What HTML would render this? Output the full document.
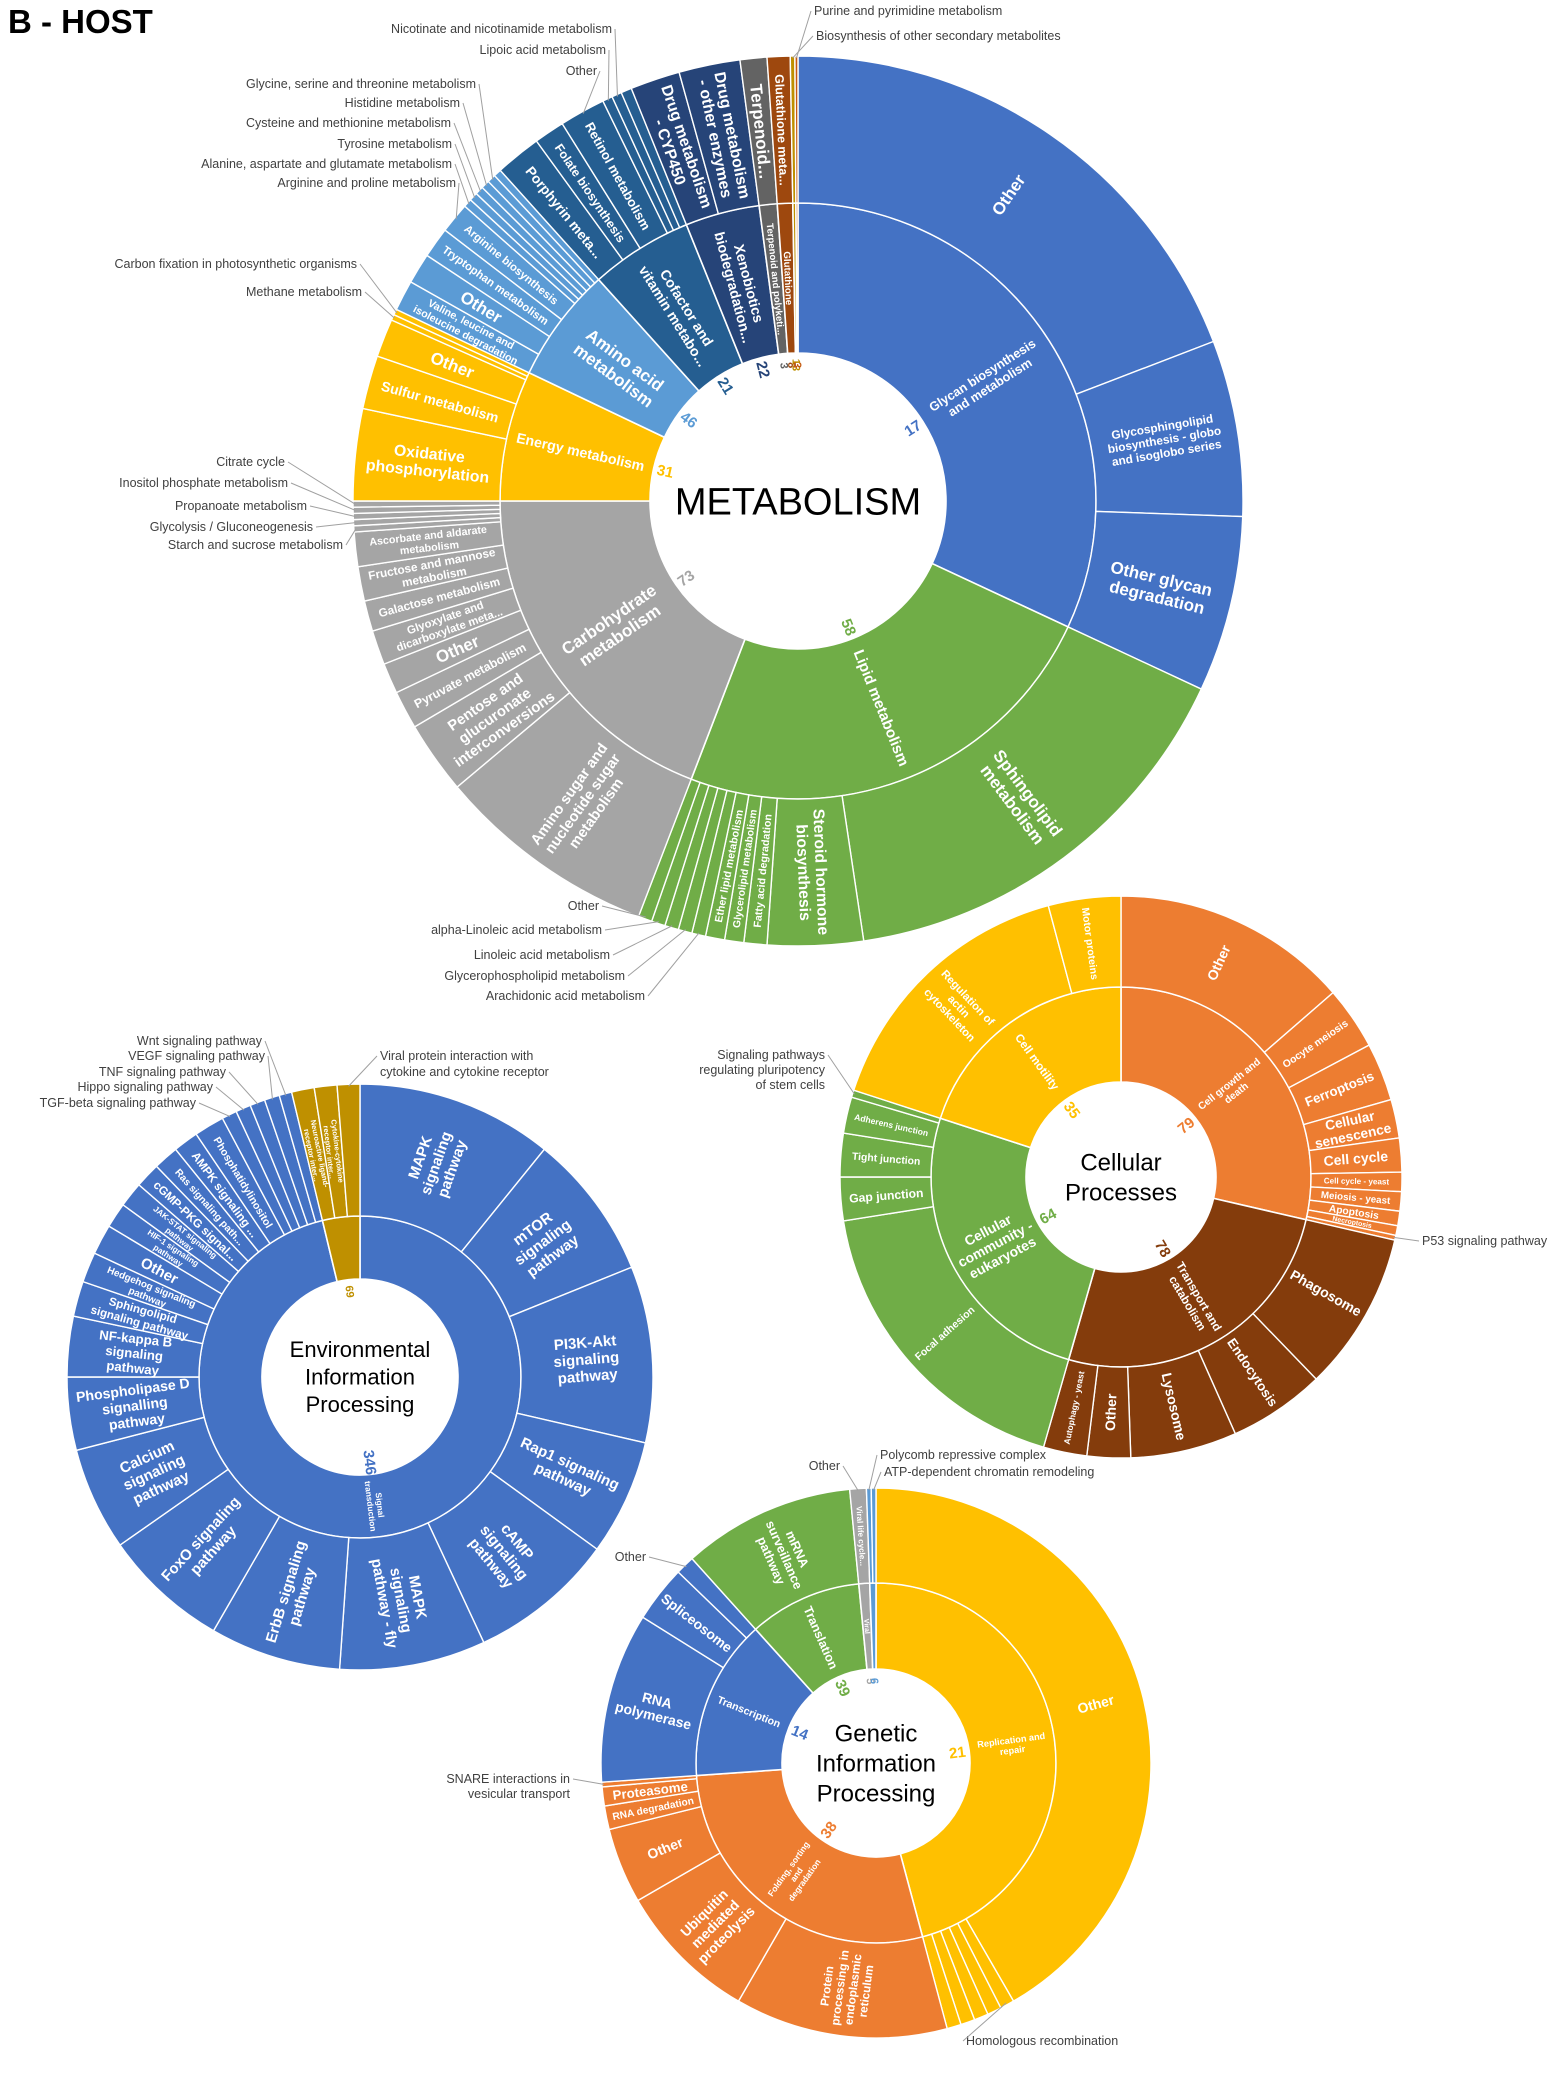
<!DOCTYPE html>
<html><head><meta charset="utf-8">
<style>
html,body{margin:0;padding:0;background:#fff;}
svg{display:block;font-family:"Liberation Sans",sans-serif;}
</style></head>
<body>
<svg id="chart" width="1557" height="2074" viewBox="0 0 1557 2074" xmlns="http://www.w3.org/2000/svg">
<rect width="1557" height="2074" fill="#fff"/>
<text x="8" y="33" font-size="33" font-weight="bold" fill="#000">B - HOST</text>
</svg>
<script>
// ===== METABOLISM =====
const metInnerNames=["Glycan biosynthesis|and metabolism","Lipid metabolism","Carbohydrate|metabolism","Energy metabolism","Amino acid|metabolism","Cofactor and|vitamin metabo...","Xenobiotics|biodegradation...","Terpenoid and polyketi...","Glutathione","Biosynthesis","Purine"];
const metInnerVals=[115,86,69,25.5,22.5,20,14.5,3.5,3,0.6,0.4];
const metInnerCounts=["17","58","73","31","46","21","22","3","8","13","3"];
const metOuterNames=["Other","Glycosphingolipid|biosynthesis - globo|and isoglobo series","Other glycan|degradation",
"Sphingolipid|metabolism","Steroid hormone|biosynthesis","Fatty acid degradation","Glycerolipid metabolism","Ether lipid metabolism","","","","","",
"Amino sugar and|nucleotide sugar|metabolism","Pentose and|glucuronate|interconversions","Pyruvate metabolism","Other","Glyoxylate and|dicarboxylate meta...","Galactose metabolism","Fructose and mannose|metabolism","Ascorbate and aldarate|metabolism","","","","","",
"Oxidative|phosphorylation","Sulfur metabolism","Other","","",
"Valine, leucine and|isoleucine degradation","Other","Tryptophan metabolism","Arginine biosynthesis","","","","","","",
"Porphyrin meta...","Folate biosynthesis","Retinol metabolism","","","",
"Drug metabolism|- CYP450","Drug metabolism|- other enzymes","Terpenoid...","Glutathione meta...","",""];
const metOuterVals=[69,23,23, 56.5,12.5,3,2.5,2.5,1.8,1.8,1.8,1.8,1.8, 29,9.5,5,4,4.5,4,4.5,4.5,0.8,0.8,0.8,0.8,0.8, 12,7,5,0.75,0.75, 4,4,4,4,1.1,1.1,1.1,1.1,1.1,1, 6,4,6,1.3,1.3,1.4, 6.5,8, 3.5,3,0.6,0.4];
const metOuterParent=[0,0,0, 1,1,1,1,1,1,1,1,1,1, 2,2,2,2,2,2,2,2,2,2,2,2,2, 3,3,3,3,3, 4,4,4,4,4,4,4,4,4,4, 5,5,5,5,5,5, 6,6, 7,8,9,10];
const metColors=["#4472C4","#70AD47","#A5A5A5","#FFC000","#5B9BD5","#255E91","#264478","#636363","#9E480E","#BF9000","#C55A11"];
const metLeaders=[
 ["Nicotinate and nicotinamide metabolism",45,612,33,"end"],["Lipoic acid metabolism",44,606,54,"end"],["Other",43,597,75,"end"],
 ["Glycine, serine and threonine metabolism",39,476,88,"end"],["Histidine metabolism",38,460,107,"end"],["Cysteine and methionine metabolism",37,451,127,"end"],
 ["Tyrosine metabolism",36,452,148,"end"],["Alanine, aspartate and glutamate metabolism",35,452,168,"end"],["Arginine and proline metabolism",34,456,187,"end"],
 ["Carbon fixation in photosynthetic organisms",30,357,268,"end"],["Methane metabolism",29,362,296,"end"],
 ["Citrate cycle",25,285,466,"end"],["Inositol phosphate metabolism",24,288,487,"end"],["Propanoate metabolism",23,307,510,"end"],
 ["Glycolysis / Gluconeogenesis",22,313,531,"end"],["Starch and sucrose metabolism",21,343,549,"end"],
 ["Other",12,599,910,"end"],["alpha-Linoleic acid metabolism",11,602,934,"end"],["Linoleic acid metabolism",10,610,959,"end"],
 ["Glycerophospholipid metabolism",9,625,980,"end"],["Arachidonic acid metabolism",8,645,1000,"end"],
 ["Purine and pyrimidine metabolism",52,814,15,"start"],["Biosynthesis of other secondary metabolites",51,816,40,"start"]];

// ===== ENVIRONMENTAL =====
const envInnerNames=["Signal|transduction","Signaling molecules|and interactions"];
const envInnerVals=[346.5,13.5];
const envInnerCounts=["346","69"];
const envOuterNames=["MAPK|signaling|pathway","mTOR|signaling|pathway","PI3K-Akt|signaling|pathway","Rap1 signaling|pathway","cAMP|signaling|pathway","MAPK|signaling|pathway - fly","ErbB signaling|pathway","FoxO signaling|pathway","Calcium|signaling|pathway","Phospholipase D|signalling|pathway","NF-kappa B|signaling|pathway","Sphingolipid|signaling pathway","Hedgehog signaling|pathway","Other","HIF-1 signaling|pathway","JAK-STAT signaling|pathway","cGMP-PKG signal...","Ras signaling path...","AMPK signaling ...","Phosphatidylinositol","","","","","","Neuroactive ligand-|receptor inter...","Cytokine-cytokine|receptor inter...",""];
const envOuterVals=[39,29,35,23,29,29,26,25,20.5,14.5,12,7,6,6,5,5,5,5,5,6,3,3,3,3,2.5,4.5,4.5,4.5];
const envOuterParent=[0,0,0,0,0,0,0,0,0,0,0,0,0,0,0,0,0,0,0,0,0,0,0,0,0,1,1,1];
const envColors=["#4472C4","#BF9000"];
const envLeaders=[["TGF-beta signaling pathway",20,196,1107,"end"],["Hippo signaling pathway",21,213,1091,"end"],["TNF signaling pathway",22,226,1076,"end"],
 ["VEGF signaling pathway",23,265,1060,"end"],["Wnt signaling pathway",24,262,1045,"end"],
 ["Viral protein interaction with",27,380,1060,"start"],["cytokine and cytokine receptor",-1,380,1076,"start"]];

// ===== CELLULAR =====
const celInnerNames=["Cell growth and|death","Transport and|catabolism","Cellular|community -|eukaryotes","Cell motility"];
const celInnerVals=[103,93,92,72];
const celInnerCounts=["79","78","64","35"];
const celOuterNames=["Other","Oocyte meiosis","Ferroptosis","Cellular|senescence","Cell cycle","Cell cycle - yeast","Meiosis - yeast","Apoptosis","Necroptosis","",
"Phagosome","Endocytosis","Lysosome","Other","Autophagy - yeast",
"Focal adhesion","Gap junction","Tight junction","Adherens junction","",
"Regulation of|actin|cytoskeleton","Motor proteins"];
const celOuterVals=[49,13,12,8,7,4,4,3,2,1, 33,20,22,9,9, 65,9,9,7.5,1.5, 57,15];
const celOuterParent=[0,0,0,0,0,0,0,0,0,0, 1,1,1,1,1, 2,2,2,2,2, 3,3];
const celColors=["#ED7D31","#843C0C","#70AD47","#FFC000"];
const celLeaders=[["Signaling pathways",19,825,1059,"end"],["regulating pluripotency",-1,825,1074,"end"],["of stem cells",-1,825,1089,"end"],
 ["P53 signaling pathway",9,1422,1245,"start"]];

// ===== GENETIC =====
const genInnerNames=["Replication and|repair","Folding, sorting|and|degradation","Transcription","Translation","Viral",""];
const genInnerVals=[165,101,52,36.5,3.5,2];
const genInnerCounts=["21","38","14","39","5","6"];
const genOuterNames=["Other","","","","","",
"Protein|processing in|endoplasmic|reticulum","Ubiquitin|mediated|proteolysis","Other","RNA degradation","Proteasome","",
"RNA|polymerase","Spliceosome","",
"mRNA|surveillance|pathway","Viral life cycle...","",""];
const genOuterVals=[150,3,3,3,3,3, 45,30,16,5,4,1, 36,12,4, 36.5,3.5,1,1];
const genOuterParent=[0,0,0,0,0,0, 1,1,1,1,1,1, 2,2,2, 3,4,5,5];
const genColors=["#FFC000","#ED7D31","#4472C4","#70AD47","#A5A5A5","#5B9BD5"];
const genLeaders=[["Other",16,840,1470,"end"],["Polycomb repressive complex",17,880,1459,"start"],["ATP-dependent chromatin remodeling",18,884,1476,"start"],
 ["Other",14,646,1561,"end"],["SNARE interactions in",11,570,1783,"end"],["vesicular transport",-1,570,1798,"end"],["Homologous recombination",1,966,2045,"start"]];

const NS="http://www.w3.org/2000/svg";
const svg=document.getElementById("chart");
function pt(cx,cy,r,a){const t=a*Math.PI/180;return [cx+r*Math.sin(t),cy-r*Math.cos(t)];}
function arcPath(cx,cy,ri,ro,a0,a1){
 const large=(a1-a0)>180?1:0;
 const p0=pt(cx,cy,ro,a0),p1=pt(cx,cy,ro,a1),p2=pt(cx,cy,ri,a1),p3=pt(cx,cy,ri,a0);
 return `M${p0[0]},${p0[1]}A${ro},${ro} 0 ${large} 1 ${p1[0]},${p1[1]}L${p2[0]},${p2[1]}A${ri},${ri} 0 ${large} 0 ${p3[0]},${p3[1]}Z`;
}
function radialText(g,cx,cy,r,a,label,fs,color,weight){
 const lines=label.split("|");
 const p=pt(cx,cy,r,a);
 const rot=(a%360)<180?a-90:a+90;
 const t=document.createElementNS(NS,"text");
 
 
 t.setAttribute("transform",`translate(${p[0]},${p[1]}) rotate(${rot})`);
 t.setAttribute("text-anchor","middle");
 t.setAttribute("font-size",fs.toFixed(1));
 t.setAttribute("fill",color);
 t.setAttribute("font-weight",weight||"bold");
 const n=lines.length;
 lines.forEach((ln,i)=>{
  const s=document.createElementNS(NS,"tspan");
  s.setAttribute("x",0);
  s.setAttribute("y",((i-(n-1)/2)*fs*1.12+fs*0.35).toFixed(1));
  s.textContent=ln;
  t.appendChild(s);
 });
 g.appendChild(t);
}
function fitFs(label,base,arcW,thick){
 const lines=label.split("|");
 const maxC=Math.max(...lines.map(l=>l.length));
 return Math.min(base,arcW/(lines.length*1.2),thick*0.9/(maxC*0.56));
}
function sunburst(name,cx,cy,r0,r1,r2,inNames,inVals,inCounts,outNames,outVals,outParent,colors,leaders,center,centerFs,baseFs){
 const g=document.createElementNS(NS,"g");
 
 
 svg.appendChild(g);
 const tot=inVals.reduce((a,b)=>a+b,0);
 let acc=0;const inA=[];
 inVals.forEach((v,i)=>{
  const a0=acc/tot*360,a1=(acc+v)/tot*360;acc+=v;inA.push([a0,a1]);
  const p=document.createElementNS(NS,"path");
  
  
  p.setAttribute("d",arcPath(cx,cy,r0,r1,a0,a1));
  p.setAttribute("fill",colors[i]);p.setAttribute("stroke","#fff");p.setAttribute("stroke-width","1.6");
  g.appendChild(p);
 });
 const otot=outVals.reduce((a,b)=>a+b,0);
 acc=0;const outA=[];
 outVals.forEach((v,i)=>{
  const a0=acc/otot*360,a1=(acc+v)/otot*360;acc+=v;outA.push([a0,a1]);
  const p=document.createElementNS(NS,"path");
  
  
  p.setAttribute("d",arcPath(cx,cy,r1,r2,a0,a1));
  p.setAttribute("fill",colors[outParent[i]]);p.setAttribute("stroke","#fff");p.setAttribute("stroke-width","1.4");
  g.appendChild(p);
 });
 inNames.forEach((nm,i)=>{
  const [a0,a1]=inA[i];const d=a1-a0;const rm=(r0+r1)/2;
  const w=rm*d*Math.PI/180;
  if(nm){const fs=fitFs(nm,baseFs,w,r1-r0); if(fs>=6) radialText(g,cx,cy,rm,(a0+a1)/2,nm,fs,"#fff","bold");}
  const fsn=Math.min(15,Math.max(11,(r0-12)*d*Math.PI/180*0.5));
  radialText(g,cx,cy,r0-12,(a0+a1)/2,inCounts[i],fsn,colors[i],"bold");
 });
 outNames.forEach((nm,i)=>{
  if(!nm)return;
  const [a0,a1]=outA[i];const d=a1-a0;const rm=(r1+r2)/2;
  const w=rm*d*Math.PI/180;
  const fs=fitFs(nm,baseFs,w,r2-r1);
  if(fs>=6) radialText(g,cx,cy,rm,(a0+a1)/2,nm,fs,"#fff","bold");
 });
 const cl=center.split("|");
 cl.forEach((ln,i)=>{
  const t=document.createElementNS(NS,"text");
  
  
  t.setAttribute("x",cx);t.setAttribute("y",cy+(i-(cl.length-1)/2)*centerFs*1.25+centerFs*0.35);
  t.setAttribute("text-anchor","middle");t.setAttribute("font-size",centerFs);t.setAttribute("fill","#000");
  t.textContent=ln;g.appendChild(t);
 });
 leaders.forEach(L=>{
  const [txt,idx,x,y,anchor]=L;
  const t=document.createElementNS(NS,"text");
  
  
  t.setAttribute("x",x);t.setAttribute("y",y);t.setAttribute("text-anchor",anchor);
  t.setAttribute("font-size","12.5");t.setAttribute("fill","#404040");
  t.textContent=txt;g.appendChild(t);
  if(idx>=0){
   const [a0,a1]=outA[idx];const p=pt(cx,cy,r2-2,(a0+a1)/2);
   const ln=document.createElementNS(NS,"line");
   
   
   ln.setAttribute("x1",anchor==="end"?x+3:x-3);ln.setAttribute("y1",y-4);
   ln.setAttribute("x2",p[0]);ln.setAttribute("y2",p[1]);
   ln.setAttribute("stroke","#a0a0a0");ln.setAttribute("stroke-width","1");
   g.appendChild(ln);
  }
 });
}
sunburst("metabolism-sunburst",798,501,148,298,445,metInnerNames,metInnerVals,metInnerCounts,metOuterNames,metOuterVals,metOuterParent,metColors,metLeaders,"METABOLISM",38,17);
sunburst("environmental-sunburst",360,1377,98,161,293,envInnerNames,envInnerVals,envInnerCounts,envOuterNames,envOuterVals,envOuterParent,envColors,envLeaders,"Environmental|Information|Processing",22,15);
sunburst("cellular-sunburst",1121,1177,95,190,281,celInnerNames,celInnerVals,celInnerCounts,celOuterNames,celOuterVals,celOuterParent,celColors,celLeaders,"Cellular|Processes",24,14);
sunburst("genetic-sunburst",876,1763,94,180,275,genInnerNames,genInnerVals,genInnerCounts,genOuterNames,genOuterVals,genOuterParent,genColors,genLeaders,"Genetic|Information|Processing",24,14);
</script>
</body></html>
